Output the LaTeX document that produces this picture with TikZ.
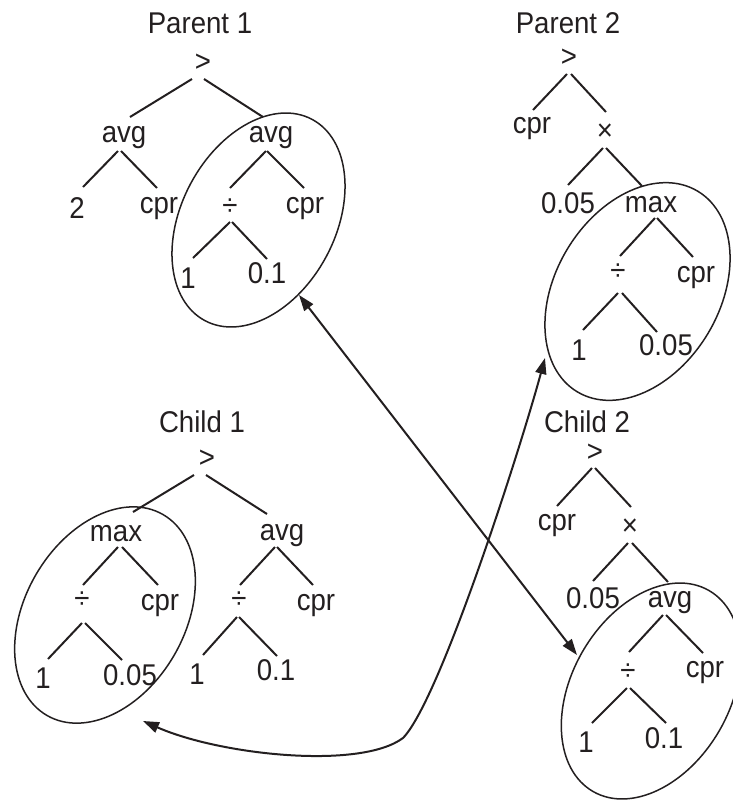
\documentclass[tikz,border=0pt]{standalone}
\usepackage{fontspec}
\setmainfont{Liberation Sans}[FakeStretch=0.92]
\usetikzlibrary{arrows.meta,calc}
\definecolor{ink}{HTML}{231F20}
\newcommand\tedge[6]{\draw[treeline] ($(#1)+(#2,#3)$) -- ($(#4)+(#5,#6)$);}
\begin{document}
\begin{tikzpicture}[x=1pt,y=-1pt,
  font=\fontsize{30}{34}\selectfont,
  every node/.style={inner sep=0pt, text=ink},
  lbl/.style={anchor=base},
  sym/.style={anchor=center},
  treeline/.style={draw=ink, line width=2pt},
  ring/.style={draw=ink, line width=1.5pt},
  xarrow/.style={draw=ink, line width=2pt, {Triangle[length=16pt,width=11pt]}-{Triangle[length=16pt,width=11pt]}}]
\useasboundingbox (0,0) rectangle (733,801);
\clip (0,0) rectangle (733,801);

% ---------- Parent 1 ----------
\node[lbl] (p1t) at (200,33) {Parent 1};
\node[sym] (p1r) at (203,63) {>};
\node[lbl] (p1a) at (124,142) {avg};
\node[lbl] (p1b) at (271,142) {avg};
\node[lbl] (p1x) at (77,218) {2};
\node[lbl] (p1y) at (159,213) {cpr};
\node[sym] (p1d) at (230,207) {÷};
\node[lbl] (p1z) at (305,213) {cpr};
\node[lbl] (p1u) at (188,288) {1};
\node[lbl] (p1v) at (267,283) {0.1};
\tedge{p1r}{-11}{16}{p1a.base}{6}{-25}
\tedge{p1r}{1}{16}{p1b.base}{-8}{-25}
\tedge{p1a.base}{-6}{9}{p1x.base}{6}{-31}
\tedge{p1a.base}{-3}{9}{p1y.base}{-2}{-25}
\tedge{p1b.base}{-5}{9}{p1d}{0}{-19}
\tedge{p1b.base}{-4}{9}{p1z.base}{-1}{-25}
\tedge{p1d}{0}{15}{p1u.base}{5}{-30}
\tedge{p1d}{2}{15}{p1v.base}{0}{-24}

% ---------- Parent 2 ----------
\node[lbl] (p2t) at (568,33) {Parent 2};
\node[sym] (p2r) at (569,58) {>};
\node[lbl] (p2a) at (532,133) {cpr};
\node[sym] (p2m) at (605,132) {×};
\node[lbl] (p2b) at (568,213) {0.05};
\node[lbl] (p2c) at (651,212) {max};
\node[sym] (p2d) at (618,272) {÷};
\node[lbl] (p2e) at (696,282) {cpr};
\node[lbl] (p2u) at (579,360) {1};
\node[lbl] (p2v) at (666,355) {0.05};
\tedge{p2r}{-2}{16}{p2a.base}{1}{-23}
\tedge{p2r}{2}{16}{p2m}{1}{-20}
\tedge{p2m}{-2}{16}{p2b.base}{0}{-28}
\tedge{p2m}{1}{16}{p2c.base}{-9}{-26}
\tedge{p2c.base}{4}{6}{p2d}{2}{-16}
\tedge{p2c.base}{6}{6}{p2e.base}{-3}{-25}
\tedge{p2d}{0}{21}{p2u.base}{4}{-30}
\tedge{p2d}{4}{21}{p2v.base}{-9}{-23}

% ---------- Child 1 ----------
\node[lbl] (c1t) at (202,432) {Child 1};
\node[sym] (c1r) at (207,459) {>};
\node[lbl] (c1a) at (116,541) {max};
\node[lbl] (c1b) at (282,540) {avg};
\node[sym] (c1d) at (82,600) {÷};
\node[lbl] (c1e) at (160,610) {cpr};
\node[lbl] (c1u) at (43,688) {1};
\node[lbl] (c1v) at (130,685) {0.05};
\node[sym] (c1f) at (239,600) {÷};
\node[lbl] (c1g) at (316,610) {cpr};
\node[lbl] (c1w) at (197,684) {1};
\node[lbl] (c1z) at (276,680) {0.1};
\tedge{c1r}{-13}{16}{c1a.base}{17}{-29}
\tedge{c1r}{-1}{16}{c1b.base}{-15}{-26}
\tedge{c1a.base}{2}{6}{c1d}{1}{-15}
\tedge{c1a.base}{6}{6}{c1e.base}{-2}{-25}
\tedge{c1d}{0}{23}{c1u.base}{5}{-29}
\tedge{c1d}{3}{23}{c1v.base}{-8}{-25}
\tedge{c1b.base}{-7}{7}{c1f}{1}{-15}
\tedge{c1b.base}{-5}{7}{c1g.base}{-3}{-25}
\tedge{c1f}{-2}{17}{c1w.base}{6}{-29}
\tedge{c1f}{0}{17}{c1z.base}{1}{-24}

% ---------- Child 2 ----------
\node[lbl] (c2t) at (587,432) {Child 2};
\node[sym] (c2r) at (595,453) {>};
\node[lbl] (c2a) at (557,530) {cpr};
\node[sym] (c2m) at (630,527) {×};
\node[lbl] (c2b) at (593,608) {0.05};
\node[lbl] (c2c) at (670,607) {avg};
\node[sym] (c2d) at (628,672) {÷};
\node[lbl] (c2e) at (705,677) {cpr};
\node[lbl] (c2u) at (586,752) {1};
\node[lbl] (c2v) at (664,748) {0.1};
\tedge{c2r}{-3}{15}{c2a.base}{0}{-24}
\tedge{c2r}{0}{15}{c2m}{1}{-20}
\tedge{c2m}{-2}{16}{c2b.base}{0}{-27}
\tedge{c2m}{2}{16}{c2c.base}{-2}{-25}
\tedge{c2c.base}{-7}{8}{c2d}{1}{-20}
\tedge{c2c.base}{-4}{8}{c2e.base}{-2}{-24}
\tedge{c2d}{-1}{16}{c2u.base}{6}{-29}
\tedge{c2d}{2}{16}{c2v.base}{2}{-25}

% ---------- ellipses ----------
\draw[ring, rotate around={62:(258.5,220)}] (258.5,220) ellipse [x radius=114, y radius=77];
\draw[ring, rotate around={59:(637.5,291.5)}] (637.5,291.5) ellipse [x radius=117, y radius=82];
\draw[ring, rotate around={60:(105,615)}] (105,615) ellipse [x radius=116, y radius=80];
\draw[ring, rotate around={60:(651,691)}] (651,691) ellipse [x radius=116, y radius=79];

% ---------- crossover arrows ----------
\coordinate (p1tip) at (299,295);
\coordinate (c2tip) at (577,655);
\coordinate (p2tip) at (545,358);
\coordinate (c1tip) at (143,721);
\coordinate (bend) at (403,738);
\draw[xarrow] (p1tip) -- (c2tip);
\draw[xarrow] (c1tip) .. controls (220,755) and (360,770) .. (bend) .. controls (440,700) and (520,450) .. (p2tip);
\end{tikzpicture}
\end{document}
